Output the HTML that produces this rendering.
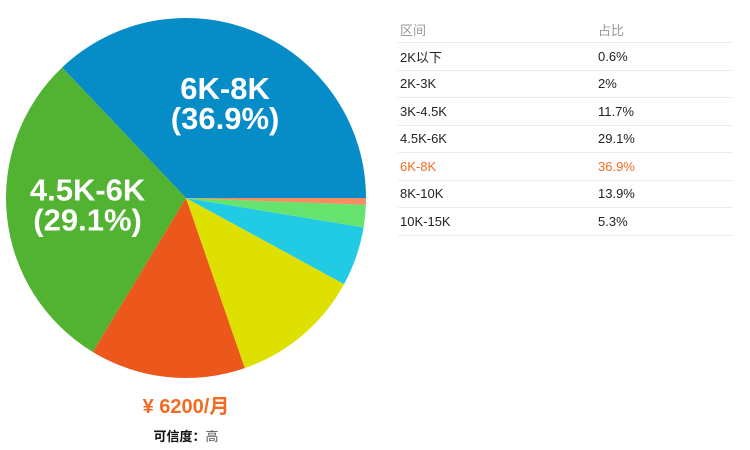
<!DOCTYPE html>
<html><head><meta charset="utf-8"><style>
body{margin:0;width:750px;height:450px;background:#fff;font-family:"Liberation Sans","Noto Sans CJK SC",sans-serif;position:relative;overflow:hidden}
table{position:absolute;left:398px;top:16px;border-collapse:collapse;width:335px;font-size:13px}
td,th{height:26.5px;padding:0 0 0 2px;text-align:left;font-weight:normal;border-bottom:1px solid #ececec;color:#222}
th{color:#999;height:26px}
tr.hl td{color:#f26b21}
</style></head><body>
<svg id="pie" width="380" height="450" style="position:absolute;left:0;top:0"></svg>
<div style="position:absolute;left:0;width:372px;top:390px;text-align:center;color:#f26b21;font-size:20px;font-weight:bold">¥ 6200/月</div>
<div style="position:absolute;left:0;width:372px;top:426px;text-align:center;font-size:13px;font-weight:bold;color:#111">可信度：<span style="color:#555;font-weight:normal">高</span></div>
<table>
<tr><th style="width:196px">区间</th><th>占比</th></tr>
<tr><td>2K以下</td><td>0.6%</td></tr>
<tr><td>2K-3K</td><td>2%</td></tr>
<tr><td>3K-4.5K</td><td>11.7%</td></tr>
<tr><td>4.5K-6K</td><td>29.1%</td></tr>
<tr class="hl"><td>6K-8K</td><td>36.9%</td></tr>
<tr><td>8K-10K</td><td>13.9%</td></tr>
<tr><td>10K-15K</td><td>5.3%</td></tr>
</table>
<script>
const labels=["6K-8K","4.5K-6K","8K-10K","3K-4.5K","10K-15K","2K-3K","2K以下"];
const values=[36.9,29.1,13.9,11.7,5.3,2,0.6];
const colors=["#068cc6","#52b232","#ec571c","#dde000","#22cbe4","#66e36e","#f48d62"];
const shown=[true,true,false,false,false,false,false];
const svg=document.getElementById('pie');
const NS='http://www.w3.org/2000/svg';
const cx=186,cy=198,r=180;
const total=values.reduce((a,b)=>a+b,0);
let a=0;
values.forEach((v,i)=>{
  const a0=a,a1=a+v/total*2*Math.PI;a=a1;
  const x0=cx+r*Math.cos(a0),y0=cy-r*Math.sin(a0),x1=cx+r*Math.cos(a1),y1=cy-r*Math.sin(a1);
  const p=document.createElementNS(NS,'path');
  p.setAttribute('d',`M${cx},${cy}L${x0},${y0}A${r},${r} 0 ${a1-a0>Math.PI?1:0} 0 ${x1},${y1}Z`);
  p.setAttribute('fill',colors[i]);
  
  
  svg.appendChild(p);
  if(shown[i]){
    const m=(a0+a1)/2,lr=r*0.55;
    const lx=cx+lr*Math.cos(m),ly=cy-lr*Math.sin(m);
    [labels[i],'('+v+'%)'].forEach((s,k)=>{
      const t=document.createElementNS(NS,'text');
      t.setAttribute('x',lx);t.setAttribute('y',ly+(k?22:-8));
      t.setAttribute('text-anchor','middle');t.setAttribute('fill','#fff');
      t.setAttribute('font-size','31');t.setAttribute('font-weight','bold');
      t.setAttribute('font-family','"Liberation Sans",sans-serif');
      
      
      t.textContent=s;svg.appendChild(t);
    });
  }
});
</script>
</body></html>
